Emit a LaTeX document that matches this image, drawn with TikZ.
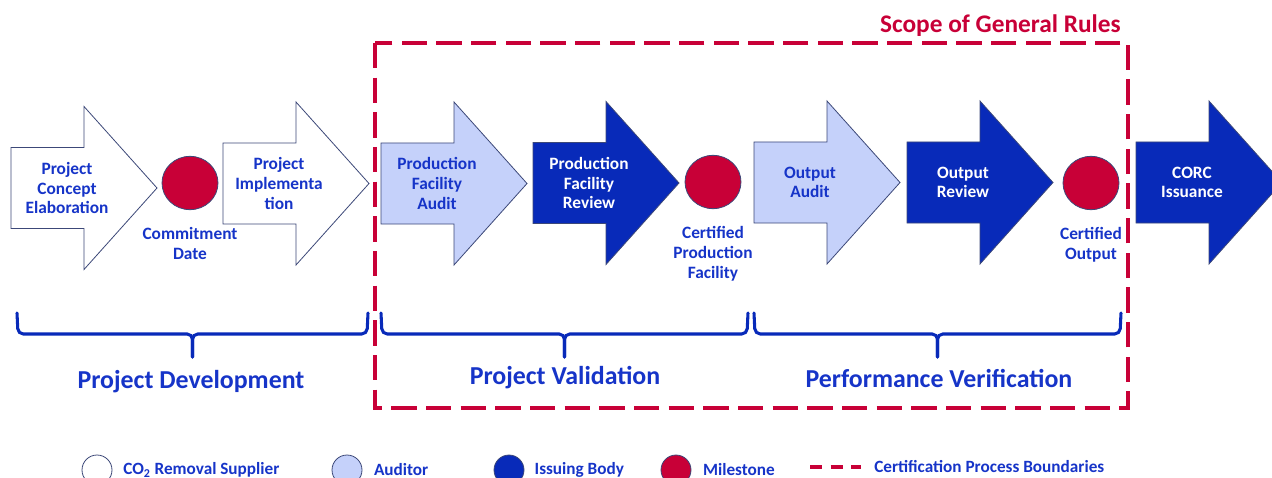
\documentclass[tikz,border=0pt]{standalone}
\usepackage{fontspec}
\setmainfont{Carlito}
\usetikzlibrary{shapes.geometric,positioning}

\definecolor{textblue}{RGB}{22,52,200}
\definecolor{issuer}{RGB}{8,42,185}
\definecolor{auditor}{RGB}{197,209,250}
\definecolor{milered}{RGB}{200,0,55}
\definecolor{edgegrey}{RGB}{60,72,120}

% one process step: name, fill style, text colour, left x, middle y, text
\newcommand{\steparrow}[6]{%
    \draw[#2] (#4,#5-40.5) -- ++(73,0) -- ++(0,-41) -- ++(73,81.5)
        -- ++(-73,81.5) -- ++(0,-41) -- ++(-73,0) -- cycle;
    \node[steplabel, text=#3] (#1) at (#4+56,#5) {#6};
}

% one phase brace: name, left x, right x
\newcommand{\phasebrace}[3]{%
    \coordinate (#1) at ({(#2+#3)/2},357);
    \draw[phasebrace] (#2,313) -- (#2+1,334) -- ({(#2+#3)/2},334) -- (#1);
    \draw[phasebrace] (#3,313) -- (#3-1,334) -- ({(#2+#3)/2},334) -- (#1);
}

\begin{document}
\begin{tikzpicture}[x=0.75pt,y=-0.75pt]

        \def\d{13pt}

        \tikzset{
            supplier/.style={draw=edgegrey, line width=0.6pt, fill=white},
            auditor/.style={draw=edgegrey, line width=0.6pt, fill=auditor},
            issuer/.style={draw=edgegrey, line width=0.6pt, fill=issuer},
            steplabel/.style={align=center, inner sep=0pt,
                font=\bfseries\fontsize{13}{14.7}\selectfont},
            milestone/.style={ellipse, draw=edgegrey, line width=0.6pt,
                fill=milered, minimum width=42pt, minimum height=40pt},
            phasebrace/.style={draw=issuer, line width=2.3pt,
                rounded corners=4pt, line cap=round},
            phaselabel/.style={text=textblue, inner sep=0pt,
                font=\bfseries\fontsize{19.4}{23}\selectfont},
            scopeline/.style={draw=milered, line width=2.3pt,
                dash pattern=on 19pt off 7pt},
            legdot/.style={circle, draw=edgegrey, line width=0.6pt,
                minimum size=22.5pt, inner sep=0pt},
            legtext/.style={text=textblue, inner sep=0pt,
                font=\bfseries\fontsize{12.9}{15}\selectfont}
        }

        \useasboundingbox (0,0) rectangle (1272,478);
        \clip (0,0) rectangle (1272,478);

        % Scope of the general rules
        \draw[scopeline] (375,43) rectangle (1128,408);
        \node[text=milered, inner sep=0pt, anchor=east,
            font=\bfseries\fontsize{19}{22}\selectfont] (scope) at (1121,26)
            {Scope of General Rules};

        % Process steps
        \steparrow{conc}{supplier}{textblue}{11}{188}{Project\\Concept\\Elaboration}
        \steparrow{impl}{supplier}{textblue}{223}{183.5}{Project\\Implementa\\tion}
        \steparrow{pfaudit}{auditor}{textblue}{381}{183.5}{Production\\Facility\\Audit}
        \steparrow{pfreview}{issuer}{white}{533}{183}{Production\\Facility\\Review}
        \steparrow{outaudit}{auditor}{textblue}{754}{182.5}{Output\\Audit}
        \steparrow{outreview}{issuer}{white}{907}{182.5}{Output\\Review}
        \steparrow{issue}{issuer}{white}{1136}{182.5}{CORC\\Issuance}

        % Milestones
        \begin{scope}
            \node[milestone] (commit) at (190,183) {};
            \node[steplabel, text=textblue, below=\d of commit] (commitlbl)
            {Commitment\\Date};
            \node[milestone] (certfac) at (713,182) {};
            \node[steplabel, text=textblue, below=\d of certfac] (certfaclbl)
            {Certified\\Production\\Facility};
            \node[milestone] (certout) at (1091,183) {};
            \node[steplabel, text=textblue, below=\d of certout] (certoutlbl)
            {Certified\\Output};
        \end{scope}

        % Phases
        \phasebrace{devtip}{17}{368}
        \phasebrace{valtip}{381}{748}
        \phasebrace{vertip}{754}{1121}
        \node[phaselabel] (dev) at (191,382) {Project Development};
        \node[phaselabel] (val) at (565,378) {Project Validation};
        \node[phaselabel] (ver) at (939,378) {Performance Verification};

        % Legend
        \begin{scope}
            \node[legdot, fill=white] (lsup) at (97,470) {};
            \node[legtext, right=8pt of lsup] (lsuptxt)
            {CO\textsubscript{2} Removal Supplier};
            \node[legdot, fill=auditor] (laud) at (347,470) {};
            \node[legtext, right=8.5pt of laud] (laudtxt) {Auditor};
            \node[legdot, fill=issuer] (liss) at (509,470) {};
            \node[legtext, right=7.5pt of liss] (lisstxt) {Issuing Body};
            \node[legdot, fill=milered] (lmil) at (676,470) {};
            \node[legtext, right=8.5pt of lmil] (lmiltxt) {Milestone};
            \coordinate (ldashA) at (810,467);
            \coordinate (ldashB) at (861,467);
            \draw[scopeline, dash pattern=on 9pt off 6.5pt] (ldashA) -- (ldashB);
            \node[legtext, right=9.75pt of ldashB] (ldashtxt)
            {Certification Process Boundaries};
        \end{scope}

        \end{tikzpicture}
\end{document}
